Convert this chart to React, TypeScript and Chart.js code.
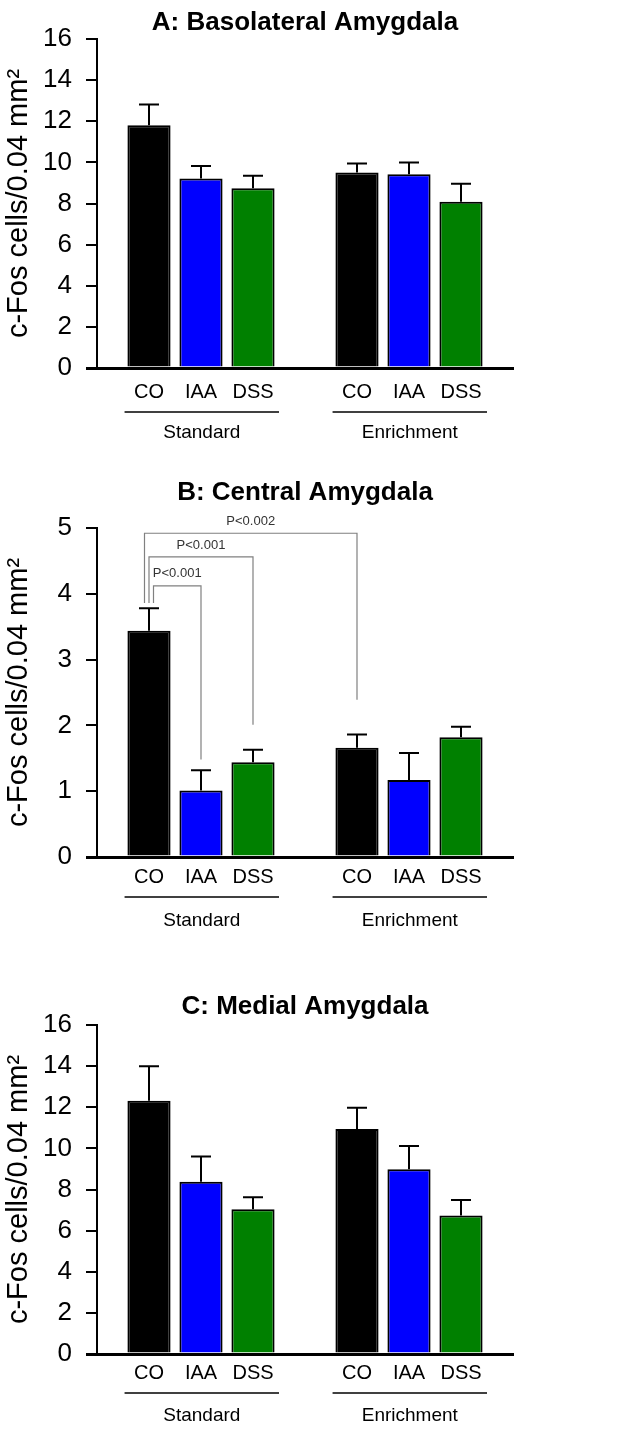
import React, { useEffect, useRef } from 'react';
import { Chart, registerables } from 'chart.js';

Chart.register(...registerables);

// ---------- data ----------
const treatments = ['CO', 'IAA', 'DSS'];
const housing = ['Standard', 'Enrichment'];
const treatmentColors = ['#000000', '#0000ff', '#008000'];

// order: Standard CO, IAA, DSS, Enrichment CO, IAA, DSS
const basolateralMean = [11.8, 9.22, 8.74, 9.51, 9.42, 8.09];
const basolateralSem = [1.02, 0.6, 0.61, 0.44, 0.58, 0.87];

const centralMean = [3.44, 1.01, 1.44, 1.66, 1.17, 1.82];
const centralSem = [0.34, 0.31, 0.19, 0.2, 0.41, 0.16];

const medialMean = [12.32, 8.38, 7.04, 10.94, 8.98, 6.74];
const medialSem = [1.68, 1.22, 0.58, 1.04, 1.14, 0.75];

// significance brackets for panel B (value units)
const centralComparisons = [
  { from: 0, to: 1, label: 'P<0.001', level: 4.12, end: 1.48 },
  { from: 0, to: 2, label: 'P<0.001', level: 4.56, end: 2.01 },
  { from: 0, to: 3, label: 'P<0.002', level: 4.92, end: 2.39 },
];
const centralBracketStart = 3.86;

const yTitle = 'c-Fos cells/0.04 mm²';

// ---------- helpers ----------
const FONT = "'Liberation Sans', Arial, sans-serif";
const TITLE_SIZE = 26;

const labels = ['', ...treatments, '', ...treatments, ''];
const slotOf = (i: number) => (i < 3 ? i + 1 : i + 2);
const toSlots = (vals: number[]) => {
  const out: (number | null)[] = labels.map(() => null);
  vals.forEach((v, i) => (out[slotOf(i)] = v));
  return out;
};
const slotColors = () => {
  const out: string[] = labels.map(() => '#ffffff');
  for (let i = 0; i < 6; i++) out[slotOf(i)] = treatmentColors[i % 3];
  return out;
};

type PanelCfg = {
  title: string;
  mean: number[];
  sem: number[];
  yMax: number;
  step: number;
  top: number;
  height: number;
  titleCenter: number;
  chartTop: number;
  chartBottom: number;
  tickPad: number;
  lineOffset: number;
  groupOffset: number;
  brackets?: typeof centralComparisons;
};

const panels: PanelCfg[] = [
  {
    title: 'A: Basolateral Amygdala', mean: basolateralMean, sem: basolateralSem, yMax: 16, step: 2,
    top: 0, height: 460, titleCenter: 23, chartTop: 39, chartBottom: 368, tickPad: 12, lineOffset: 44, groupOffset: 65,
  },
  {
    title: 'B: Central Amygdala', mean: centralMean, sem: centralSem, yMax: 5, step: 1,
    top: 460, height: 490, titleCenter: 33, chartTop: 68, chartBottom: 397, tickPad: 8, lineOffset: 40, groupOffset: 64,
    brackets: centralComparisons,
  },
  {
    title: 'C: Medial Amygdala', mean: medialMean, sem: medialSem, yMax: 16, step: 2,
    top: 950, height: 482, titleCenter: 57, chartTop: 75, chartBottom: 404, tickPad: 7, lineOffset: 39, groupOffset: 62,
  },
];

const WIDTH = 618;
const AXIS_LEFT = 97;
const AXIS_RIGHT = 513;
const X_AXIS_H = 60;

function makePlugin(cfg: PanelCfg) {
  return {
    id: 'annotations',
    afterDatasetsDraw(chart: any) {
      const { ctx } = chart;
      const y = chart.scales.y;
      const meta = chart.getDatasetMeta(0);
      ctx.save();
      ctx.strokeStyle = '#000';
      ctx.lineWidth = 2;
      cfg.mean.forEach((m, i) => {
        const el = meta.data[slotOf(i)];
        const cx = el.x;
        const base = y.getPixelForValue(m);
        const tip = y.getPixelForValue(m + cfg.sem[i]);
        ctx.beginPath();
        ctx.moveTo(cx, base);
        ctx.lineTo(cx, tip);
        ctx.moveTo(cx - 10, tip);
        ctx.lineTo(cx + 10, tip);
        ctx.stroke();
      });
      ctx.restore();
    },
    afterDraw(chart: any) {
      const { ctx, chartArea } = chart;
      const x = chart.scales.x;
      const y = chart.scales.y;
      const unit = x.getPixelForValue(1) - x.getPixelForValue(0);
      ctx.save();
      // group underlines and names
      housing.forEach((h, g) => {
        const first = x.getPixelForValue(slotOf(g * 3));
        const last = x.getPixelForValue(slotOf(g * 3 + 2));
        const x1 = first - 0.47 * unit;
        const x2 = last + 0.5 * unit;
        const ly = chartArea.bottom + cfg.lineOffset;
        ctx.strokeStyle = '#000';
        ctx.lineWidth = 1.5;
        ctx.beginPath();
        ctx.moveTo(x1, ly);
        ctx.lineTo(x2, ly);
        ctx.stroke();
        ctx.fillStyle = '#000';
        ctx.font = `19px ${FONT}`;
        ctx.textAlign = 'center';
        ctx.textBaseline = 'middle';
        ctx.fillText(h, (x1 + x2) / 2, chartArea.bottom + cfg.groupOffset);
      });
      // significance brackets
      if (cfg.brackets) {
        cfg.brackets.forEach((b, k) => {
          const xl = x.getPixelForValue(slotOf(b.from)) + (1 - k) * 4.5;
          const xr = x.getPixelForValue(slotOf(b.to));
          const yl = y.getPixelForValue(b.level);
          ctx.strokeStyle = '#808080';
          ctx.lineWidth = 1.2;
          ctx.beginPath();
          ctx.moveTo(xl, y.getPixelForValue(centralBracketStart));
          ctx.lineTo(xl, yl);
          ctx.lineTo(xr, yl);
          ctx.lineTo(xr, y.getPixelForValue(b.end));
          ctx.stroke();
          ctx.fillStyle = '#333';
          ctx.font = `13px ${FONT}`;
          ctx.textAlign = 'center';
          ctx.textBaseline = 'middle';
          ctx.fillText(b.label, (xl + xr) / 2, yl - 12);
        });
      }
      ctx.restore();
    },
  };
}

function Panel({ cfg }: { cfg: PanelCfg }) {
  const ref = useRef<HTMLCanvasElement>(null);
  useEffect(() => {
    if (!ref.current) return;
    const half = (TITLE_SIZE * 1.2) / 2;
    const ptTitle = cfg.titleCenter - half;
    const pbTitle = Math.max(0, cfg.chartTop - cfg.titleCenter - half);
    const chart = new Chart(ref.current, {
      type: 'bar',
      data: {
        labels,
        datasets: [
          {
            data: toSlots(cfg.mean),
            backgroundColor: slotColors(),
            borderColor: '#000',
            borderWidth: 2,
            barPercentage: 0.83,
            categoryPercentage: 1,
          },
        ],
      },
      options: {
        responsive: false,
        animation: false,
        events: [],
        layout: {
          padding: {
            top: 0,
            left: 0,
            right: WIDTH - AXIS_RIGHT,
            bottom: cfg.height - cfg.chartBottom - X_AXIS_H,
          },
        },
        plugins: {
          legend: { display: false },
          tooltip: { enabled: false },
          title: {
            display: true,
            text: cfg.title,
            fullSize: false,
            color: '#000',
            font: { family: FONT, size: TITLE_SIZE, weight: 'bold', lineHeight: 1.2 },
            padding: { top: ptTitle, bottom: pbTitle },
          },
        },
        scales: {
          x: {
            type: 'category',
            offset: false,
            grid: { display: false, drawTicks: false, offset: false },
            border: { display: true, color: '#000', width: 3 },
            ticks: {
              autoSkip: false,
              maxRotation: 0,
              padding: cfg.tickPad,
              color: '#000',
              font: { family: FONT, size: 20 },
            },
            afterFit: (s: any) => {
              s.height = X_AXIS_H;
            },
          },
          y: {
            min: 0,
            max: cfg.yMax,
            ticks: {
              stepSize: cfg.step,
              padding: 14,
              color: '#000',
              font: { family: FONT, size: 26 },
            },
            grid: {
              drawOnChartArea: false,
              drawTicks: true,
              tickLength: 11,
              color: '#000',
              lineWidth: (c: any) => (c.tick && c.tick.value === 0 ? 3 : 2),
            },
            border: { display: true, color: '#000', width: 2 },
            title: {
              display: true,
              text: yTitle,
              color: '#000',
              font: { family: FONT, size: 29 },
              padding: { top: 2, bottom: 0 },
            },
            afterFit: (s: any) => {
              s.width = AXIS_LEFT;
            },
          },
        },
      },
      plugins: [makePlugin(cfg)],
    } as any);
    return () => chart.destroy();
  }, [cfg]);
  return (
    <canvas
      ref={ref}
      width={WIDTH}
      height={cfg.height}
      style={{ position: 'absolute', left: 0, top: cfg.top, width: WIDTH, height: cfg.height, display: 'block' }}
    />
  );
}

export default function App() {
  return (
    <div style={{ position: 'absolute', left: 0, top: 0, width: WIDTH, height: 1432, background: '#fff' }}>
      {panels.map((p) => (
        <Panel key={p.title} cfg={p} />
      ))}
    </div>
  );
}
